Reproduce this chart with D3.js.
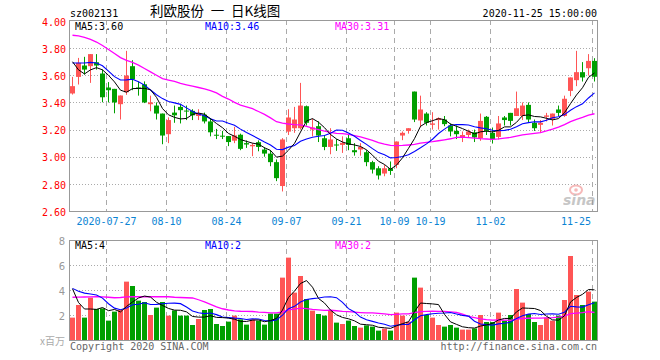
<!DOCTYPE html>
<html><head><meta charset="utf-8">
<script src="https://cdn.jsdelivr.net/npm/d3@7/dist/d3.min.js"></script>
<style>html,body{margin:0;padding:0;background:#fff;} svg{display:block;}</style>
</head><body>
<svg id="c" width="660" height="360"></svg>
<script>
// ---------------- data ----------------
const dates = [
 "2020-07-17","2020-07-20","2020-07-21","2020-07-22","2020-07-23","2020-07-24","2020-07-27","2020-07-28","2020-07-29","2020-07-30","2020-07-31",
 "2020-08-03","2020-08-04","2020-08-05","2020-08-06","2020-08-07","2020-08-10","2020-08-11","2020-08-12","2020-08-13","2020-08-14",
 "2020-08-17","2020-08-18","2020-08-19","2020-08-20","2020-08-21","2020-08-24","2020-08-25","2020-08-26","2020-08-27","2020-08-28","2020-08-31",
 "2020-09-01","2020-09-02","2020-09-03","2020-09-04","2020-09-07","2020-09-08","2020-09-09","2020-09-10","2020-09-11",
 "2020-09-14","2020-09-15","2020-09-16","2020-09-17","2020-09-18","2020-09-21","2020-09-22","2020-09-23","2020-09-24","2020-09-25",
 "2020-09-28","2020-09-29","2020-09-30","2020-10-09","2020-10-12","2020-10-13","2020-10-14","2020-10-15","2020-10-16",
 "2020-10-19","2020-10-20","2020-10-21","2020-10-22","2020-10-23","2020-10-26","2020-10-27","2020-10-28","2020-10-29","2020-10-30",
 "2020-11-02","2020-11-03","2020-11-04","2020-11-05","2020-11-06","2020-11-09","2020-11-10","2020-11-11","2020-11-12","2020-11-13",
 "2020-11-16","2020-11-17","2020-11-18","2020-11-19","2020-11-20","2020-11-23","2020-11-24","2020-11-25"];
const opens = [3.466,3.588,3.672,3.667,3.696,3.613,3.51,3.50,3.387,3.475,3.667,3.51,3.534,3.387,3.377,3.318,3.166,3.325,3.367,3.34,
 3.338,3.30,3.31,3.26,3.162,3.155,3.152,3.118,3.162,3.10,3.077,3.107,3.053,3.023,2.96,2.784,3.185,3.21,3.21,3.372,
 3.20,3.225,3.136,3.072,3.09,3.087,3.136,3.048,3.053,3.033,2.96,2.915,2.876,2.915,2.94,3.156,3.19,3.48,3.267,3.318,
 3.235,3.27,3.274,3.23,3.19,3.142,3.16,3.18,3.137,3.294,3.176,3.146,3.289,3.323,3.30,3.30,3.382,3.25,3.235,3.294,
 3.279,3.348,3.30,3.485,3.564,3.623,3.652,3.706];
const highs = [3.588,3.728,3.736,3.756,3.756,3.642,3.55,3.50,3.451,3.78,3.711,3.555,3.555,3.45,3.40,3.318,3.29,3.377,3.39,3.377,
 3.35,3.35,3.325,3.285,3.205,3.19,3.152,3.22,3.17,3.12,3.10,3.12,3.07,3.048,2.98,3.137,3.35,3.367,3.544,3.377,
 3.28,3.26,3.16,3.21,3.13,3.15,3.16,3.10,3.10,3.048,2.97,2.93,2.94,2.965,3.112,3.186,3.21,3.48,3.45,3.328,
 3.328,3.29,3.30,3.245,3.23,3.186,3.20,3.20,3.318,3.30,3.215,3.30,3.30,3.323,3.48,3.40,3.40,3.274,3.27,3.323,
 3.318,3.377,3.45,3.584,3.78,3.697,3.756,3.726];
const lows = [3.458,3.532,3.605,3.544,3.642,3.401,3.40,3.32,3.274,3.456,3.49,3.45,3.395,3.335,3.274,3.092,3.10,3.25,3.245,3.27,
 3.27,3.27,3.245,3.15,3.13,3.13,3.078,3.10,3.048,3.065,3.004,3.04,3.0,2.93,2.82,2.744,3.16,3.176,3.20,3.23,
 3.15,3.108,3.048,3.018,3.043,3.028,3.048,3.008,3.008,2.93,2.876,2.832,2.856,2.866,2.915,3.122,3.17,3.255,3.218,3.23,
 3.20,3.20,3.225,3.15,3.13,3.108,3.14,3.108,3.117,3.16,3.097,3.127,3.23,3.23,3.30,3.27,3.25,3.19,3.176,3.26,
 3.23,3.30,3.294,3.446,3.52,3.554,3.598,3.554];
const closes = [3.52,3.692,3.642,3.756,3.672,3.438,3.49,3.40,3.451,3.598,3.569,3.50,3.40,3.40,3.318,3.156,3.27,3.305,3.343,3.336,
 3.305,3.32,3.26,3.18,3.157,3.152,3.108,3.157,3.058,3.09,3.087,3.072,3.023,2.96,2.842,3.127,3.289,3.274,3.377,3.25,
 3.215,3.156,3.072,3.127,3.084,3.102,3.087,3.033,3.072,2.96,2.905,2.862,2.915,2.895,3.112,3.176,3.21,3.274,3.348,3.25,
 3.245,3.284,3.24,3.186,3.166,3.16,3.186,3.142,3.264,3.19,3.13,3.245,3.27,3.264,3.357,3.377,3.274,3.21,3.25,3.304,
 3.318,3.323,3.427,3.584,3.623,3.584,3.706,3.589];
const volumes = [1.79,2.8,1.79,3.39,2.48,2.53,1.55,2.27,2.4,4.67,4.32,3.15,3.04,2.0,2.59,3.04,1.95,2.37,1.95,1.95,
 1.2,1.68,2.4,2.48,1.28,1.12,1.47,1.95,1.65,1.23,1.65,1.55,1.23,2.11,2.11,4.99,6.59,3.79,5.12,3.28,
 2.35,2.08,1.95,2.32,1.39,1.28,1.55,1.12,0.99,1.17,1.07,0.75,0.91,0.75,2.19,1.95,1.47,4.99,4.19,2.0,
 1.79,1.2,1.07,1.2,0.99,0.83,0.83,0.93,2.0,1.44,1.44,2.19,1.55,2.0,4.08,2.99,2.08,1.44,1.2,1.79,
 1.55,1.95,3.2,6.72,3.6,2.8,3.87,3.07];
// moving-average values at the left edge (history before the first visible day)
const ma5Lead = [3.70,3.64,3.61,3.64];
const ma10Lead = [3.69,3.69,3.69,3.695,3.69,3.67,3.63,3.59,3.565];
const ma30Lead = [3.895,3.89,3.88,3.865,3.845,3.82,3.79,3.76,3.73,3.71,3.695,3.675,3.65,3.625,3.60,3.575,3.565,3.555,3.54,3.53,
 3.52,3.51,3.50,3.487,3.47,3.445,3.425,3.40,3.38];
const volMa5Lead = [4.1,3.0,2.48,2.48];
const volMa10Lead = [4.13,3.9,3.75,3.68,3.6,3.35,2.9,2.55,2.42];
const volMa30Lead = [3.42,3.43,3.44,3.45,3.46,3.45,3.42,3.38,3.40,3.45,3.47,3.46,3.46,3.46,3.46,3.47,3.46,3.42,3.40,3.38,
 3.36,3.22,3.05,2.85,2.65,2.5,2.4,2.33,2.3];
const priceTicks = [2.6,2.8,3.0,3.2,3.4,3.6,3.8,4.0];
const volTicks = [2,4,6,8];
const tickDates = ["2020-07-27","2020-08-10","2020-08-24","2020-09-07","2020-09-21","2020-10-09","2020-10-19","2020-11-02","2020-11-25"];
const stockCode = "sz002131";
const titleText = "利欧股份\u2002一\u2002日K线图";
const stamp = "2020-11-25 15:00:00";
const maLabels = ["MA5:3.60","MA10:3.46","MA30:3.31"];
const volMaLabels = ["MA5:4","MA10:2","MA30:2"];

// ---------------- drawing ----------------
const svg = d3.select("#c");
const MONO = "'DejaVu Sans Mono', monospace";
const RED = "#ff5555", GREEN = "#009f00";
const L = 70, R = 597;
const x = d3.scaleBand().domain(d3.range(dates.length)).range([L, R]).paddingInner(1/6).paddingOuter(0);
const cx = i => x(i) + x.bandwidth()/2;
const y = d3.scaleLinear().domain([2.6, 4.0]).range([211, 21]);
const vy = d3.scaleLinear().domain([0, 8]).range([340, 240]);

function movingAvg(arr, n, lead) {
  return arr.map((v, i) => i < n - 1 ? lead[i] : d3.mean(arr.slice(i - n + 1, i + 1)));
}
const up = i => closes[i] >= opens[i];

// title texts
svg.append("text").attr("x", 70).attr("y", 16.5).attr("font-family", MONO).attr("font-size", 10).text(stockCode);
svg.append("text").attr("x", 150).attr("y", 16).attr("font-family", "'Noto Sans CJK SC', sans-serif").attr("font-size", 13.5)
  .style("white-space", "pre").text(titleText);
svg.append("text").attr("x", 597).attr("y", 16.5).attr("text-anchor", "end").attr("font-family", MONO).attr("font-size", 10).text(stamp);

function panel(yTop, yBot, gridVals, ys) {
  const g = svg.append("g");
  g.selectAll("line.h").data(gridVals).enter().append("line")
    .attr("x1", L).attr("x2", R).attr("y1", d => Math.round(ys(d)) + 0.5).attr("y2", d => Math.round(ys(d)) + 0.5)
    .attr("stroke", "#aaa").attr("stroke-dasharray", "1,2");
  g.selectAll("line.v").data(tickDates).enter().append("line")
    .attr("x1", d => x(dates.indexOf(d)) + 0.5).attr("x2", d => x(dates.indexOf(d)) + 0.5)
    .attr("y1", yTop).attr("y2", yBot)
    .attr("stroke", "#aaa").attr("stroke-dasharray", "5,4");
  g.append("rect").attr("x", L - 0.5).attr("y", yTop + 0.5).attr("width", R - L + 1).attr("height", yBot - yTop)
    .attr("fill", "none").attr("stroke", "#999");
  return g;
}

// ----- price panel -----
panel(20, 211, [2.8, 3.0, 3.2, 3.4, 3.6, 3.8], y);

// watermark
const wm = svg.append("g").attr("opacity", 0.55);
wm.append("ellipse").attr("cx", 576).attr("cy", 190).attr("rx", 6).attr("ry", 4.5).attr("fill", "none").attr("stroke", "#f08080").attr("stroke-width", 2);
wm.append("circle").attr("cx", 576).attr("cy", 190).attr("r", 1.8).attr("fill", "#f08080");
wm.append("text").attr("x", 563).attr("y", 205).attr("font-family", "'DejaVu Sans', sans-serif").attr("font-style", "italic")
  .attr("font-weight", "bold").attr("font-size", 14).attr("fill", "#999").text("sina");

const yAxis = svg.append("g").attr("transform", `translate(${L},0)`)
  .call(d3.axisLeft(y).tickValues(priceTicks).tickFormat(d3.format(".2f")).tickSize(0).tickPadding(4));
yAxis.select(".domain").remove();
yAxis.selectAll("text").attr("fill", "#ff0000").attr("font-family", MONO).attr("font-size", 10).attr("dy", "0.42em");

// candles
const idx = d3.range(dates.length);
const cg = svg.append("g");
cg.selectAll("line.w").data(idx).enter().append("line")
  .attr("x1", i => cx(i)).attr("x2", i => cx(i))
  .attr("y1", i => y(highs[i])).attr("y2", i => y(lows[i]))
  .attr("stroke", i => up(i) ? RED : GREEN).attr("stroke-width", 1);
cg.selectAll("rect.b").data(idx).enter().append("rect")
  .attr("x", i => x(i)).attr("width", x.bandwidth())
  .attr("y", i => y(Math.max(opens[i], closes[i])))
  .attr("height", i => Math.max(1, Math.abs(y(opens[i]) - y(closes[i]))))
  .attr("fill", i => up(i) ? RED : GREEN);

const line = d3.line().x((d, i) => cx(i)).y(d => y(d));
const ma5 = movingAvg(closes, 5, ma5Lead), ma10 = movingAvg(closes, 10, ma10Lead), ma30 = movingAvg(closes, 30, ma30Lead);
[[ma30, "#ff00ff", 1.3], [ma10, "#0000ff", 1.1], [ma5, "#000", 1]].forEach(([s, c, w]) =>
  svg.append("path").datum(s).attr("d", line).attr("fill", "none").attr("stroke", c).attr("stroke-width", w));

const legendX = [75, 205, 335], legendC = ["#000", "#0000ff", "#ff00ff"];
maLabels.forEach((t, k) => svg.append("text").attr("x", legendX[k]).attr("y", 29.5).attr("font-family", MONO)
  .attr("font-size", 10).attr("fill", legendC[k]).text(t));

// date labels
tickDates.forEach((d, k) => {
  const i = dates.indexOf(d);
  const lab = k === 0 ? d : d.slice(5);
  const w = lab.length * 6.02;
  let c = x(i) + 0.5;
  if (c + w / 2 > R - 6) c = R - 6 - w / 2;
  svg.append("text").attr("x", c).attr("y", 225).attr("text-anchor", "middle").attr("font-family", MONO)
    .attr("font-size", 10).attr("fill", "#0b84d4").text(lab);
});

// ----- volume panel -----
panel(240, 340, [2, 4, 6], vy);
const vAxis = svg.append("g").attr("transform", `translate(${L},0)`)
  .call(d3.axisLeft(vy).tickValues(volTicks).tickFormat(d3.format("d")).tickSize(0).tickPadding(5));
vAxis.select(".domain").remove();
vAxis.selectAll("text").attr("fill", "#999").attr("font-family", "'DejaVu Sans', sans-serif").attr("font-size", 10).attr("dy", "0.4em");
svg.append("text").attr("x", 65).attr("y", 345).attr("text-anchor", "end").attr("font-family", "'Noto Sans CJK SC', sans-serif")
  .attr("font-size", 10).attr("fill", "#aaa").text("x百万");

svg.append("g").selectAll("rect").data(idx).enter().append("rect")
  .attr("x", i => x(i)).attr("width", x.bandwidth())
  .attr("y", i => vy(volumes[i])).attr("height", i => 340 - vy(volumes[i]))
  .attr("fill", i => up(i) ? RED : GREEN);

const vline = d3.line().x((d, i) => cx(i)).y(d => vy(d));
const vma5 = movingAvg(volumes, 5, volMa5Lead), vma10 = movingAvg(volumes, 10, volMa10Lead), vma30 = movingAvg(volumes, 30, volMa30Lead);
[[vma30, "#ff00ff", 1.3], [vma10, "#0000ff", 1.1], [vma5, "#000", 1]].forEach(([s, c, w]) =>
  svg.append("path").datum(s).attr("d", vline).attr("fill", "none").attr("stroke", c).attr("stroke-width", w));

volMaLabels.forEach((t, k) => svg.append("text").attr("x", legendX[k]).attr("y", 249).attr("font-family", MONO)
  .attr("font-size", 10).attr("fill", legendC[k]).text(t));

svg.append("text").attr("x", 70).attr("y", 350).attr("font-family", MONO).attr("font-size", 10).attr("fill", "#666").text("Copyright 2020 SINA.COM");
svg.append("text").attr("x", 597).attr("y", 350).attr("text-anchor", "end").attr("font-family", MONO).attr("font-size", 10).attr("fill", "#666").text("http://finance.sina.com.cn");
</script>
</body></html>
